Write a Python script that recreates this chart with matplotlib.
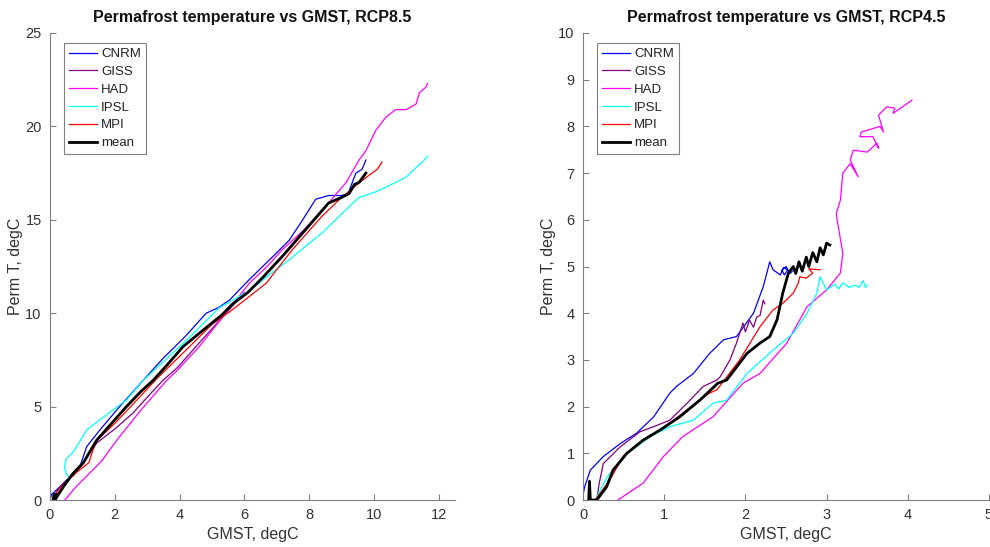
import matplotlib
matplotlib.use("Agg")
import matplotlib.pyplot as plt

plt.rcParams['font.family'] = ['Liberation Sans', 'DejaVu Sans']

models = ['CNRM', 'GISS', 'HAD', 'IPSL', 'MPI', 'mean']
colors = ['#0000ff', '#800080', '#ff00ff', '#00ffff', '#ff0000', '#000000']
widths = [0.9, 0.9, 0.9, 0.9, 0.9, 2.0]

# RCP8.5: GMST (x) and permafrost temperature (y)
cnrm85_x = [0.0, 0.05, 0.3, 0.51, 0.72, 0.92, 1.13, 1.54, 2.1, 2.87, 3.5, 4.2, 4.82, 5.2, 5.54, 6.15, 6.8, 7.38, 7.8, 8.2, 8.6, 9.0, 9.2, 9.44, 9.63, 9.75]
cnrm85_y = [0.0, 0.3, 0.7, 1.07, 1.3, 1.77, 2.85, 3.75, 4.9, 6.4, 7.6, 8.8, 10.0, 10.3, 10.7, 11.8, 12.9, 13.9, 15.0, 16.1, 16.3, 16.3, 16.4, 17.5, 17.7, 18.2]
giss85_x = [0.1, 0.15, 0.31, 0.7, 1.0, 1.44, 2.0, 2.56, 3.0, 3.48, 3.94, 4.6, 5.38, 6.0]
giss85_y = [0.0, 0.3, 0.7, 1.3, 1.9, 3.05, 3.8, 4.65, 5.5, 6.4, 7.1, 8.4, 9.9, 11.1]
had85_x = [0.46, 0.8, 1.23, 1.6, 2.06, 2.8, 3.6, 3.94, 4.6, 5.38, 6.15, 6.7, 7.17, 7.8, 8.4, 9.14, 9.54, 9.75, 10.06, 10.37, 10.67, 11.0, 11.3, 11.4, 11.6, 11.65]
had85_y = [0.0, 0.7, 1.45, 2.1, 3.2, 4.8, 6.4, 6.96, 8.2, 9.9, 11.6, 12.5, 13.4, 14.4, 15.5, 17.0, 18.2, 18.7, 19.8, 20.5, 20.9, 20.9, 21.2, 21.8, 22.1, 22.3]
ipsl85_x = [0.6, 0.5, 0.45, 0.5, 0.68, 0.82, 1.13, 1.54, 2.36, 2.87, 3.5, 4.3, 5.23, 6.15, 6.8, 7.38, 7.9, 8.4, 9.23, 9.54, 10.06, 10.67, 11.0, 11.3, 11.5, 11.65]
ipsl85_y = [1.2, 1.4, 1.75, 2.2, 2.5, 2.85, 3.75, 4.3, 5.35, 6.4, 7.4, 8.7, 10.3, 11.2, 12.1, 12.85, 13.6, 14.3, 15.7, 16.2, 16.5, 17.0, 17.3, 17.8, 18.1, 18.4]
mpi85_x = [0.1, 0.2, 0.45, 0.8, 1.03, 1.2, 1.33, 1.45, 2.0, 2.6, 3.3, 4.3, 5.0, 5.64, 6.67, 7.48, 8.4, 9.0, 9.63, 9.94, 10.1, 10.25]
mpi85_y = [0.0, 0.4, 0.9, 1.45, 1.77, 2.0, 2.7, 3.2, 4.1, 5.2, 6.5, 8.2, 9.4, 10.2, 11.6, 13.4, 15.2, 16.2, 17.1, 17.5, 17.7, 18.1]
mean85_x = [0.1, 0.12, 0.2, 0.15, 0.41, 0.7, 1.03, 1.44, 1.9, 2.36, 2.8, 3.18, 3.6, 4.1, 4.8, 5.3, 5.64, 6.1, 6.56, 7.2, 7.8, 8.2, 8.6, 9.0, 9.23, 9.4, 9.54, 9.75]
mean85_y = [0.0, 0.3, 0.3, 0.0, 0.7, 1.4, 2.0, 3.2, 4.1, 5.0, 5.8, 6.4, 7.2, 8.2, 9.2, 9.9, 10.5, 11.1, 11.9, 13.1, 14.3, 15.1, 15.9, 16.2, 16.4, 16.9, 17.0, 17.5]

# RCP4.5
cnrm45_x = [0.0, 0.02, 0.09, 0.25, 0.46, 0.66, 0.87, 1.07, 1.15, 1.36, 1.56, 1.73, 1.89, 2.1, 2.22, 2.3, 2.34, 2.43, 2.47, 2.52, 2.48, 2.45, 2.5, 2.55, 2.58]
cnrm45_y = [0.1, 0.28, 0.64, 0.93, 1.21, 1.43, 1.78, 2.29, 2.43, 2.71, 3.14, 3.43, 3.5, 4.0, 4.57, 5.1, 4.93, 4.82, 4.98, 4.92, 4.82, 4.92, 5.0, 4.85, 4.9]
giss45_x = [0.17, 0.2, 0.25, 0.46, 0.7, 0.87, 1.07, 1.28, 1.48, 1.65, 1.69, 1.81, 1.89, 1.97, 2.0, 2.05, 2.1, 2.14, 2.18, 2.22, 2.24]
giss45_y = [0.0, 0.36, 0.78, 1.14, 1.46, 1.57, 1.71, 2.07, 2.43, 2.57, 2.64, 3.0, 3.36, 3.79, 3.6, 3.85, 3.7, 3.92, 3.95, 4.28, 4.2]
had45_x = [0.43, 0.74, 0.99, 1.23, 1.6, 1.97, 2.18, 2.51, 2.76, 3.0, 3.17, 3.2, 3.13, 3.12, 3.17, 3.2, 3.29, 3.39, 3.29, 3.33, 3.5, 3.62, 3.64, 3.57, 3.41, 3.43, 3.66, 3.7, 3.64, 3.74, 3.84, 3.82, 4.05]
had45_y = [0.0, 0.36, 0.93, 1.36, 1.78, 2.5, 2.71, 3.36, 4.14, 4.5, 4.86, 5.28, 6.0, 6.14, 6.42, 7.0, 7.2, 6.92, 7.28, 7.49, 7.45, 7.64, 7.53, 7.78, 7.78, 7.88, 8.0, 7.88, 8.24, 8.42, 8.39, 8.28, 8.56]
ipsl45_x = [0.15, 0.3, 0.55, 0.83, 1.07, 1.36, 1.6, 1.77, 2.02, 2.34, 2.59, 2.76, 2.88, 2.92, 3.0, 3.1, 3.15, 3.2, 3.28, 3.35, 3.4, 3.45, 3.48, 3.5]
ipsl45_y = [0.0, 0.5, 1.0, 1.36, 1.57, 1.71, 2.07, 2.14, 2.71, 3.21, 3.57, 4.0, 4.43, 4.78, 4.5, 4.62, 4.52, 4.65, 4.55, 4.6, 4.55, 4.7, 4.55, 4.6]
mpi45_x = [0.15, 0.33, 0.5, 0.75, 1.0, 1.28, 1.56, 1.65, 1.93, 2.18, 2.34, 2.46, 2.59, 2.65, 2.67, 2.75, 2.83, 2.78, 2.92]
mpi45_y = [0.0, 0.43, 0.95, 1.3, 1.55, 1.93, 2.29, 2.36, 3.0, 3.71, 4.07, 4.21, 4.43, 4.64, 4.78, 4.75, 4.86, 4.95, 4.93]
mean45_x = [0.07, 0.08, 0.09, 0.17, 0.29, 0.37, 0.54, 0.74, 0.95, 1.19, 1.44, 1.66, 1.77, 2.02, 2.18, 2.3, 2.39, 2.46, 2.53, 2.59, 2.62, 2.66, 2.7, 2.75, 2.78, 2.83, 2.88, 2.92, 2.96, 3.0, 3.04]
mean45_y = [0.0, 0.4, 0.0, 0.0, 0.28, 0.64, 1.0, 1.28, 1.5, 1.78, 2.14, 2.5, 2.57, 3.14, 3.36, 3.5, 3.86, 4.43, 4.86, 5.0, 4.85, 5.1, 4.9, 5.2, 5.0, 5.3, 5.1, 5.4, 5.25, 5.5, 5.46]

rcp85 = [(cnrm85_x, cnrm85_y), (giss85_x, giss85_y), (had85_x, had85_y),
         (ipsl85_x, ipsl85_y), (mpi85_x, mpi85_y), (mean85_x, mean85_y)]
rcp45 = [(cnrm45_x, cnrm45_y), (giss45_x, giss45_y), (had45_x, had45_y),
         (ipsl45_x, ipsl45_y), (mpi45_x, mpi45_y), (mean45_x, mean45_y)]

fig = plt.figure(figsize=(9.9, 5.47), dpi=100)
ax1 = fig.add_axes([50/990, 47/547, 405/990, 467/547])
ax2 = fig.add_axes([583/990, 47/547, 406/990, 467/547])

panels = [(ax1, rcp85, 'RCP8.5', 12.5, 25, range(0, 13, 2), range(0, 26, 5)),
          (ax2, rcp45, 'RCP4.5', 5, 10, range(0, 6), range(0, 11))]

for ax, data, name, xmax, ymax, xt, yt in panels:
    for (x, y), lab, c, lw in zip(data, models, colors, widths):
        ax.plot(x, y, color=c, lw=lw, label=lab)
    ax.set_xlim(0, xmax)
    ax.set_ylim(0, ymax)
    ax.set_xticks(list(xt))
    ax.set_yticks(list(yt))
    ax.spines['top'].set_visible(False)
    ax.spines['right'].set_visible(False)
    for s in ['left', 'bottom']:
        ax.spines[s].set_color('#808080')
        ax.spines[s].set_linewidth(0.8)
    ax.tick_params(direction='in', length=4, color='#808080', labelsize=10.5,
                   labelcolor='#333333', pad=6)
    ax.set_title('Permafrost temperature vs GMST, ' + name, fontsize=11.5,
                 fontweight='bold', color='#111111', pad=8)
    ax.set_xlabel('GMST, degC', fontsize=11.5, color='#333333', labelpad=3)
    ax.set_ylabel('Perm T, degC', fontsize=11.5, color='#333333', labelpad=2)
    leg = ax.legend(loc='upper left', bbox_to_anchor=(0.035, 0.979), borderaxespad=0,
                    fontsize=9.5, handlelength=2.1, handletextpad=0.3, labelspacing=0.42,
                    borderpad=0.4, fancybox=False, framealpha=1)
    leg.get_frame().set_edgecolor('#808080')
    leg.get_frame().set_linewidth(0.8)
    for t in leg.get_texts():
        t.set_color('#222222')

fig.savefig('out.png', dpi=100)
